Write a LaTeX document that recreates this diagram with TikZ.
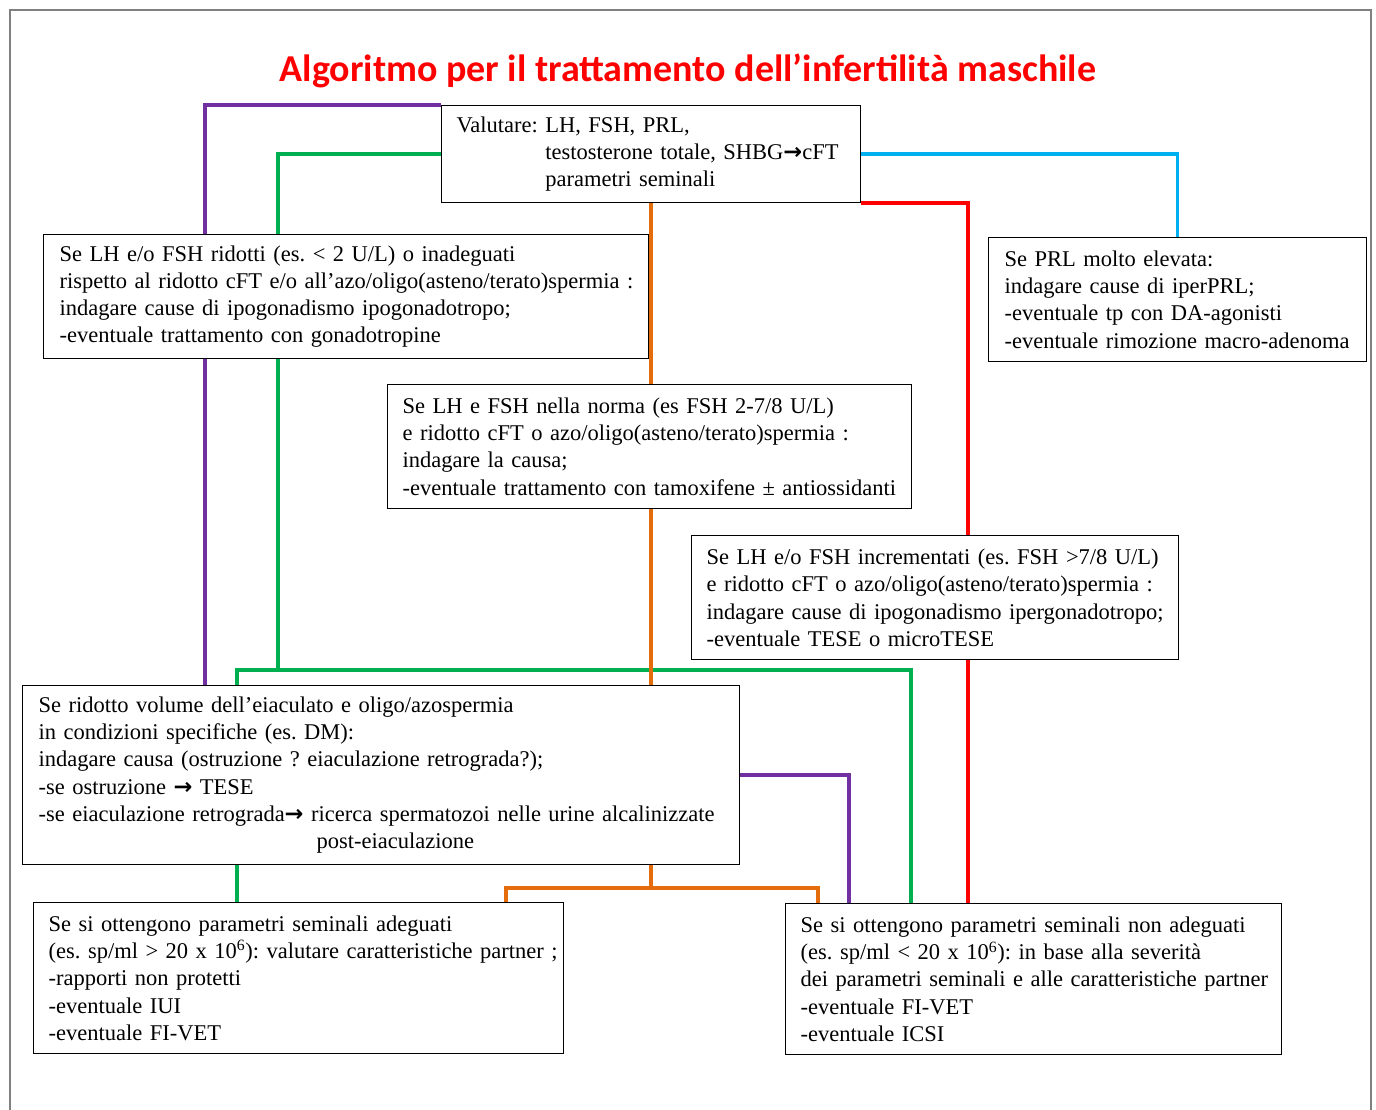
\documentclass[tikz,border=0pt]{standalone}
\usepackage{fontspec}
\setmainfont{Liberation Serif}
\newfontfamily\titlefont{Carlito}
\newfontfamily\arrowfont{DejaVu Sans}
\usetikzlibrary{backgrounds}
\definecolor{purp}{HTML}{7030A0}
\definecolor{grn}{HTML}{00B050}
\definecolor{org}{HTML}{E46C0A}
\definecolor{redl}{HTML}{FF0000}
\definecolor{cyn}{HTML}{00B0F0}
\definecolor{frame}{HTML}{808080}
\newcommand{\arr}{{\arrowfont\bfseries →}}
\newcommand{\boxfont}{\fontsize{22.5}{27.3}\selectfont\frenchspacing\hyphenpenalty=10000\relax}
\tikzset{
  box/.style={draw, line width=1.3pt, fill=white, anchor=north west, align=left,
    inner xsep=12pt, inner ysep=2pt, font=\boxfont},
  link/.style={line width=3.6pt},
}

\begin{document}
\begin{tikzpicture}[x=1pt,y=-1pt]
        \useasboundingbox (0,0) rectangle (1376,1110);
        \draw[frame, line width=2pt] (10,1110) -- (10,10) -- (1371,10) -- (1371,1110);

        \node[text=redl, font=\titlefont\bfseries\fontsize{38}{44}\selectfont] (title) at (688,71)
            {Algoritmo per il trattamento dell’infertilità maschile};

        \node[box, inner xsep=15pt, text width=389pt, minimum height=97pt] (val) at (441,105)
            {\begin{tabular}{@{}l@{ }l@{}}Valutare: & LH, FSH, PRL,\\
             & testosterone totale, SHBG\arr cFT\\
             & parametri seminali\end{tabular}};

        \node[box, text width=581pt, minimum height=124pt] (low) at (43,234)
            {\hspace*{4pt}Se LH e/o FSH ridotti (es. < 2 U/L) o inadeguati\\
             \hspace*{4pt}rispetto al ridotto cFT e/o all’azo/oligo(asteno/terato)spermia :\\
             \hspace*{4pt}indagare cause di ipogonadismo ipogonadotropo;\\
             \hspace*{4pt}-eventuale trattamento con gonadotropine};

        \node[box, text width=354pt, minimum height=124pt] (prl) at (988,237)
            {\hspace*{4pt}Se PRL molto elevata:\\
             \hspace*{4pt}indagare cause di iperPRL;\\
             \hspace*{4pt}-eventuale tp con DA-agonisti\\
             \hspace*{4pt}-eventuale rimozione macro-adenoma};

        \node[box, text width=500pt, minimum height=124pt] (norm) at (387,384)
            {\hspace*{3pt}Se LH e FSH nella norma (es FSH 2-7/8 U/L)\\
             \hspace*{3pt}e ridotto cFT o azo/oligo(asteno/terato)spermia :\\
             \hspace*{3pt}indagare la causa;\\
             \hspace*{3pt}-eventuale trattamento con tamoxifene ± antiossidanti};

        \node[box, text width=463pt, minimum height=124pt] (high) at (691,535)
            {\hspace*{3pt}Se LH e/o FSH incrementati (es. FSH >7/8 U/L)\\
             \hspace*{3pt}e ridotto cFT o azo/oligo(asteno/terato)spermia :\\
             \hspace*{3pt}indagare cause di ipogonadismo ipergonadotropo;\\
             \hspace*{3pt}-eventuale TESE o microTESE};

        \node[box, text width=693pt, minimum height=179pt] (vol) at (22,685)
            {\hspace*{4pt}Se ridotto volume dell’eiaculato e oligo/azospermia\\
             \hspace*{4pt}in condizioni specifiche (es. DM):\\
             \hspace*{4pt}indagare causa (ostruzione ? eiaculazione retrograda?);\\
             \hspace*{4pt}-se ostruzione \arr{} TESE\\
             \hspace*{4pt}-se eiaculazione retrograda\arr{} ricerca spermatozoi nelle urine alcalinizzate\\
             \hspace*{282pt}post-eiaculazione};

        \node[box, text width=506pt, minimum height=151pt] (adeg) at (33,902)
            {\hspace*{3pt}Se si ottengono parametri seminali adeguati\\
             \mbox{\hspace*{3pt}(es. sp/ml > 20 x 10\textsuperscript{6}): valutare caratteristiche partner ;}\\
             \hspace*{3pt}-rapporti non protetti\\
             \hspace*{3pt}-eventuale IUI\\
             \hspace*{3pt}-eventuale FI-VET};

        \node[box, text width=472pt, minimum height=151pt] (nonad) at (785,903)
            {\hspace*{3pt}Se si ottengono parametri seminali non adeguati\\
             \hspace*{3pt}(es. sp/ml < 20 x 10\textsuperscript{6}): in base alla severità\\
             \hspace*{3pt}dei parametri seminali e alle caratteristiche partner\\
             \hspace*{3pt}-eventuale FI-VET\\
             \hspace*{3pt}-eventuale ICSI};

        \coordinate (pv) at (205,0);
        \coordinate (pv2) at (849,0);
        \coordinate (gj) at (278,670);
        \coordinate (gl) at (237,670);
        \coordinate (gr) at (911,670);
        \coordinate (oj) at (650,888);
        \coordinate (ol) at (506,888);
        \coordinate (or) at (818,888);
        \coordinate (rv) at (968,0);

        \begin{scope}[on background layer]
        \draw[link, purp] (val.north west) -| (vol.north -| pv);
        \draw[link, purp] (vol.east) -| (nonad.north -| pv2);

        \draw[link, grn] (val.west) -| (gj);
        \draw[link, grn] (adeg.north -| gl) |- (gr) -- (nonad.north -| gr);

        \draw[link, org] (val.south) -- (val.south |- oj);
        \draw[link, org] (adeg.north -| ol) |- (or) -- (nonad.north -| or);

        \draw[link, redl] (val.south east) -| (nonad.north -| rv);

        \draw[link, cyn] (val.east) -| (prl.north);
        \end{scope}
    \end{tikzpicture}
\end{document}
